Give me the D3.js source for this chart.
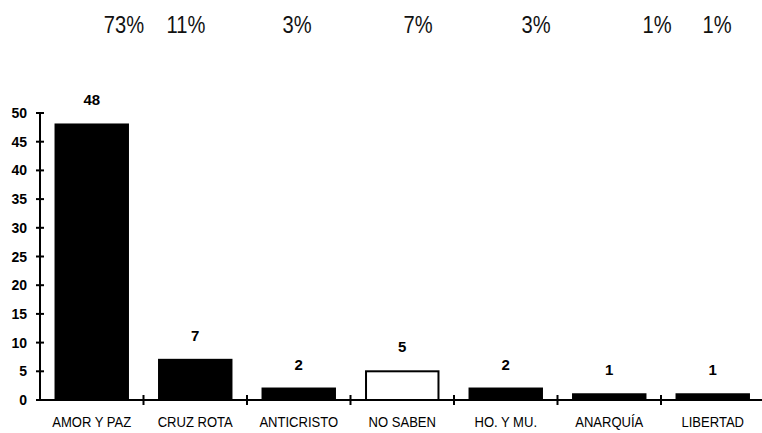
<!DOCTYPE html>
<html><head><meta charset="utf-8">
<script src="https://cdn.jsdelivr.net/npm/d3@7"></script>
<style>
html,body{margin:0;padding:0;background:#fff;}
svg{display:block;}
</style></head>
<body>
<svg id="chart" width="762" height="433"></svg>
<script>
const categories = ["AMOR Y PAZ","CRUZ ROTA","ANTICRISTO","NO SABEN","HO. Y MU.","ANARQUÍA","LIBERTAD"];
const values = [48, 7, 2, 5, 2, 1, 1];
const fills = ["#000","#000","#000","#fff","#000","#000","#000"];
const yTicks = [0,5,10,15,20,25,30,35,40,45,50];
const percentLabels = ["73%","11%","3%","7%","3%","1%","1%"];

const svg = d3.select("#chart");
const x0 = 40, x1 = 764.5, yBase = 400, yTop = 113;
const x = d3.scaleBand().domain(categories).range([x0, x1]).paddingInner(0.3).paddingOuter(0.15);
const y = d3.scaleLinear().domain([0, 50]).range([yBase, yTop]);

// percent labels along the top (positioned freely as in the original)
const pctX = [124, 186, 297, 418, 536, 657, 717];
svg.append("g").selectAll("text").data(percentLabels).join("text")
  .attr("transform", (d,i) => `translate(${pctX[i]},33) scale(0.84,1)`)
  .attr("text-anchor", "middle")
  .style("font-family", "'Liberation Sans',Arial,sans-serif")
  .style("font-size", "24px").attr("fill", "#111")
  .text(d => d);

// bars
svg.append("g").selectAll("rect").data(values).join("rect")
  .attr("x", (d,i) => x(categories[i]))
  .attr("y", d => y(d))
  .attr("width", x.bandwidth())
  .attr("height", d => yBase - y(d))
  .attr("fill", (d,i) => fills[i])
  .attr("stroke", "#000").attr("stroke-width", 2);

// value labels
svg.append("g").selectAll("text").data(values).join("text")
  .attr("x", (d,i) => x(categories[i]) + x.bandwidth()/2)
  .attr("y", d => y(d) - 19)
  .attr("text-anchor", "middle")
  .style("font-family", "'Liberation Sans',Arial,sans-serif")
  .style("font-weight", "bold").style("font-size", "15px")
  .text(d => d);

// y axis
const gy = svg.append("g");
gy.append("line").attr("x1", x0).attr("x2", x0).attr("y1", y(50)).attr("y2", yBase)
  .attr("stroke", "#000").attr("stroke-width", 2);
gy.selectAll("line.t").data(yTicks).join("line").attr("class","t")
  .attr("x1", x0 - 4).attr("x2", x0 + 4).attr("y1", d => y(d)).attr("y2", d => y(d))
  .attr("stroke", "#000").attr("stroke-width", 2);
gy.selectAll("text").data(yTicks).join("text")
  .attr("x", 27).attr("y", d => y(d) + 5).attr("text-anchor", "end")
  .style("font-family", "'Liberation Sans',Arial,sans-serif")
  .style("font-weight", "bold").style("font-size", "14px")
  .text(d => d);

// x axis
const gx = svg.append("g");
gx.append("line").attr("x1", x0).attr("x2", 762).attr("y1", yBase).attr("y2", yBase)
  .attr("stroke", "#000").attr("stroke-width", 2);
const boundaries = categories.slice(1).map(c => x(c) - x.step()*x.paddingInner()/2);
gx.selectAll("line.t").data(boundaries).join("line").attr("class","t")
  .attr("x1", d => d).attr("x2", d => d).attr("y1", yBase - 5).attr("y2", yBase + 5)
  .attr("stroke", "#000").attr("stroke-width", 2);
gx.selectAll("text").data(categories).join("text")
  .attr("transform", d => `translate(${x(d) + x.bandwidth()/2},427) scale(0.9,1)`)
  .attr("text-anchor", "middle")
  .style("font-family", "'Liberation Sans',Arial,sans-serif")
  .style("font-size", "14.5px")
  .text(d => d);
</script>
</body></html>
